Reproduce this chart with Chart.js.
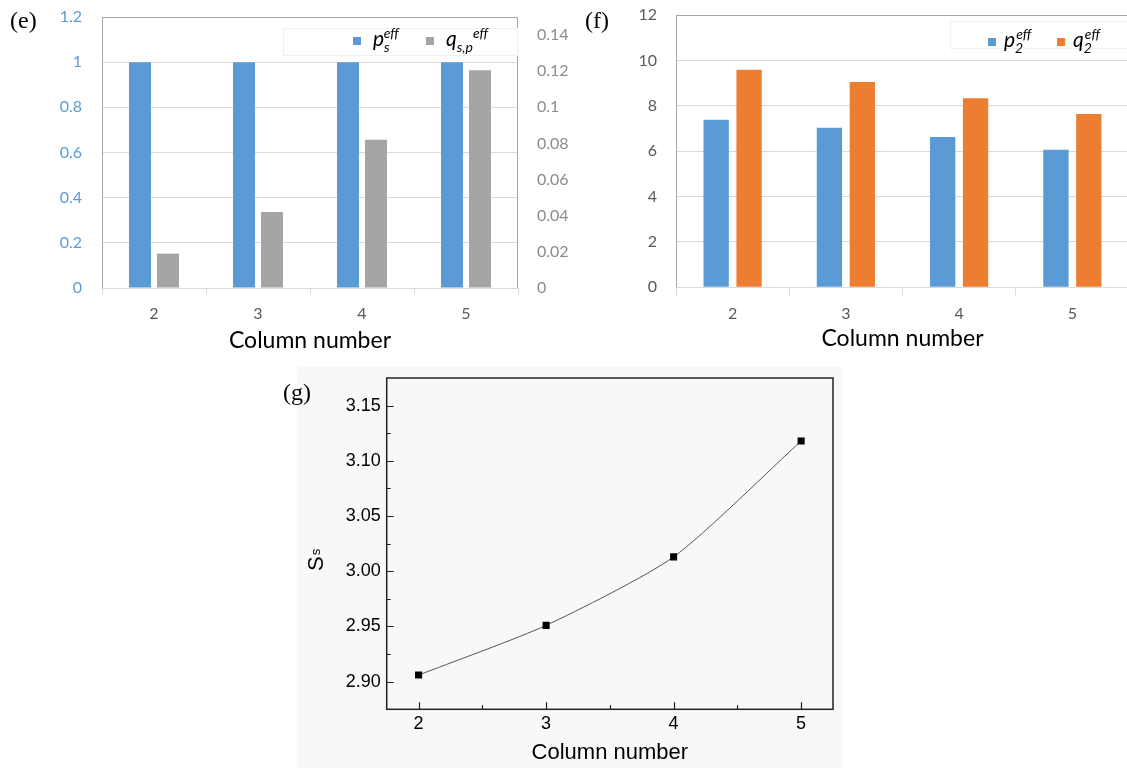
<!DOCTYPE html>
<html>
<head>
<meta charset="utf-8">
<script src="https://cdn.jsdelivr.net/npm/chart.js@4.4.0/dist/chart.umd.min.js"></script>
<style>
  html, body { margin: 0; padding: 0; background: #fff; overflow: hidden; width: 1127px; height: 768px; }
  .panel { position: absolute; }
  .tag { position: absolute; font-family: "Liberation Serif", serif; font-size: 24px; line-height: 1; color: #000; }
  #bgG { position: absolute; left: 297px; top: 367px; width: 545px; height: 401px; background: #f8f8f8; }
</style>
</head>
<body>
<div id="bgG"></div>
<div class="panel" style="left:0;top:0;width:600px;height:360px"><canvas id="chartE"></canvas></div>
<div class="panel" style="left:560px;top:0;width:580px;height:360px"><canvas id="chartF"></canvas></div>
<div class="panel" style="left:290px;top:365px;width:560px;height:403px"><canvas id="chartG"></canvas></div>
<div class="tag" style="left:10px;top:8px">(e)</div>
<div class="tag" style="left:585px;top:8px">(f)</div>
<div class="tag" style="left:283px;top:380px">(g)</div>

<script>
// Data
const columns = ['2', '3', '4', '5'];
const psEff = [1, 1, 1, 1];
const qspEff = [0.019, 0.042, 0.082, 0.1205];
const p2Eff = [7.38, 7.03, 6.62, 6.06];
const q2Eff = [9.59, 9.05, 8.33, 7.64];
const columnNumbers = [2, 3, 4, 5];
const ssValues = [2.906, 2.951, 3.013, 3.118];

// Tick labels
const ticksELeft = [0, 0.2, 0.4, 0.6, 0.8, 1, 1.2];
const ticksERight = [0, 0.02, 0.04, 0.06, 0.08, 0.1, 0.12, 0.14];
const ticksF = [0, 2, 4, 6, 8, 10, 12];
const ticksGX = [2, 3, 4, 5];
const minorGX = [2.5, 3.5, 4.5];
const ticksGY = [2.90, 2.95, 3.00, 3.05, 3.10, 3.15];
const minorGY = [2.925, 2.975, 3.025, 3.075, 3.125];

const BLUE = '#5b9bd5';
const GRAY = '#a5a5a5';
const ORANGE = '#ed7d31';
const GRID = '#d9d9d9';
const XLFONT = 'Lato, "Open Sans", sans-serif';
const ARIAL = '"Liberation Sans", Arial, sans-serif';

function setTicks(list) {
    return function(scale) {
        scale.ticks = list.map(v => ({ value: v }));
    };
}
function plainNum(v) {
    return String(+v.toFixed(4));
}
// fixed axis size, and no extra label padding pushed into the layout
function fixWidth(w) {
    return function(scale) {
        scale.width = w;
        scale.paddingTop = 0;
        scale.paddingBottom = 0;
    };
}
function fixHeight(h) {
    return function(scale) {
        scale.height = h;
        scale.paddingLeft = 0;
        scale.paddingRight = 0;
    };
}

// draw text made of pieces (main, subscript, superscript)
function drawRich(ctx, x, y, parts, color) {
    ctx.save();
    ctx.fillStyle = color;
    ctx.textBaseline = 'alphabetic';
    ctx.textAlign = 'left';
    parts.forEach(p => {
        ctx.font = (p.italic ? 'italic ' : '') + p.size + 'px ' + (p.family || XLFONT);
        ctx.fillText(p.text, x, y + (p.dy || 0));
        x += ctx.measureText(p.text).width + (p.gap || 0);
    });
    ctx.restore();
}

// Excel style frame + legend
function excelDecor(legendItems, boxRect) {
    return {
        id: 'excelDecor',
        afterDraw(chart) {
            const ctx = chart.ctx;
            const a = chart.chartArea;
            ctx.save();
            ctx.strokeStyle = '#a6a6a6';
            ctx.lineWidth = 1;
            ctx.beginPath();
            ctx.moveTo(a.left + 0.5, a.bottom);
            ctx.lineTo(a.left + 0.5, a.top + 0.5);
            ctx.lineTo(a.right - 0.5, a.top + 0.5);
            ctx.lineTo(a.right - 0.5, a.bottom);
            ctx.stroke();
            if (boxRect) {
                ctx.strokeStyle = '#f0f0f0';
                ctx.strokeRect(boxRect[0] + 0.5, boxRect[1] + 0.5, boxRect[2], boxRect[3]);
            }
            legendItems.forEach(item => {
                ctx.fillStyle = item.color;
                ctx.fillRect(item.x, item.y, 8, 8);
                drawRich(ctx, item.tx, item.y + 9, item.parts, '#000');
            });
            ctx.restore();
        }
    };
}

// ---------- (e) ----------
new Chart(document.getElementById('chartE'), {
    type: 'bar',
    data: {
        labels: columns,
        datasets: [
            { label: 'ps eff', data: psEff, backgroundColor: BLUE, yAxisID: 'y' },
            { label: 'qs,p eff', data: qspEff, backgroundColor: GRAY, yAxisID: 'y2' }
        ]
    },
    options: {
        responsive: true,
        maintainAspectRatio: false,
        animation: false,
        layout: { padding: { top: 17, left: 0, right: 0, bottom: 0 } },
        datasets: { bar: { categoryPercentage: 0.538, barPercentage: 0.786 } },
        plugins: { legend: { display: false }, tooltip: { enabled: false } },
        scales: {
            x: {
                grid: { drawOnChartArea: false, color: GRID, tickLength: 6 },
                border: { color: GRID },
                ticks: { color: '#595959', font: { family: XLFONT, size: 16 }, padding: 10 },
                title: { display: true, text: 'Column number', color: '#000', font: { family: XLFONT, size: 23 }, padding: { top: 0, bottom: 6 } },
                afterFit: fixHeight(72)
            },
            y: {
                min: 0, max: 1.2,
                grid: { color: GRID, drawTicks: false },
                border: { display: false },
                ticks: { color: BLUE, font: { family: XLFONT, size: 16 }, padding: 20, callback: plainNum },
                afterBuildTicks: setTicks(ticksELeft),
                afterFit: fixWidth(102)
            },
            y2: {
                position: 'right',
                min: 0, max: 0.15,
                grid: { drawOnChartArea: false, drawTicks: false },
                border: { display: false },
                ticks: { color: '#8c8c8c', font: { family: XLFONT, size: 16 }, padding: 19, callback: plainNum },
                afterBuildTicks: setTicks(ticksERight),
                afterFit: fixWidth(82)
            }
        }
    },
    plugins: [excelDecor([
        { color: BLUE, x: 353, y: 37, tx: 373, parts: [
            { text: 'p', size: 21, italic: true },
            { text: 's', size: 14, italic: true, dy: 6, gap: -6 },
            { text: 'eff', size: 14, italic: true, dy: -8 }
        ] },
        { color: GRAY, x: 426, y: 37, tx: 446, parts: [
            { text: 'q', size: 21, italic: true },
            { text: 's,p', size: 14, italic: true, dy: 6 },
            { text: 'eff', size: 14, italic: true, dy: -8 }
        ] }
    ], [283, 28, 234, 27])]
});

// ---------- (f) ----------
new Chart(document.getElementById('chartF'), {
    type: 'bar',
    data: {
        labels: columns,
        datasets: [
            { label: 'p2 eff', data: p2Eff, backgroundColor: BLUE },
            { label: 'q2 eff', data: q2Eff, backgroundColor: ORANGE }
        ]
    },
    options: {
        responsive: true,
        maintainAspectRatio: false,
        animation: false,
        layout: { padding: { top: 15, left: 0, right: 11, bottom: 0 } },
        datasets: { bar: { categoryPercentage: 0.581, barPercentage: 0.769 } },
        plugins: { legend: { display: false }, tooltip: { enabled: false } },
        scales: {
            x: {
                grid: { drawOnChartArea: false, color: GRID, tickLength: 8 },
                border: { color: GRID },
                ticks: { color: '#595959', font: { family: XLFONT, size: 16 }, padding: 9 },
                title: { display: true, text: 'Column number', color: '#000', font: { family: XLFONT, size: 23 }, padding: { top: 0, bottom: 8 } },
                afterFit: fixHeight(72.7)
            },
            y: {
                min: 0, max: 12,
                grid: { color: GRID, drawTicks: false },
                border: { display: false },
                ticks: { color: '#595959', font: { family: XLFONT, size: 16 }, padding: 19, callback: plainNum },
                afterBuildTicks: setTicks(ticksF),
                afterFit: fixWidth(116)
            }
        }
    },
    plugins: [excelDecor([
        { color: BLUE, x: 428, y: 38, tx: 444, parts: [
            { text: 'p', size: 21, italic: true },
            { text: '2', size: 14, italic: true, dy: 6, gap: -7 },
            { text: 'eff', size: 14, italic: true, dy: -8 }
        ] },
        { color: ORANGE, x: 497, y: 38, tx: 513, parts: [
            { text: 'q', size: 21, italic: true },
            { text: '2', size: 14, italic: true, dy: 6, gap: -7 },
            { text: 'eff', size: 14, italic: true, dy: -8 }
        ] }
    ], [390, 21, 200, 27])]
});

// ---------- (g) ----------
const originDecor = {
    id: 'originDecor',
    afterDraw(chart) {
        const ctx = chart.ctx;
        const a = chart.chartArea;
        const xs = chart.scales.x;
        const ys = chart.scales.y;
        ctx.save();
        ctx.strokeStyle = '#222';
        ctx.lineWidth = 1.5;
        ctx.strokeRect(a.left, a.top, a.right - a.left, a.bottom - a.top);
        ctx.lineWidth = 1.2;
        ctx.beginPath();
        xs.ticks.forEach(t => {
            const px = Math.round(xs.getPixelForValue(t.value)) + 0.5;
            const len = ticksGX.includes(t.value) ? 7 : 4;
            ctx.moveTo(px, a.bottom);
            ctx.lineTo(px, a.bottom - len);
        });
        ys.ticks.forEach(t => {
            const py = Math.round(ys.getPixelForValue(t.value)) + 0.5;
            const len = ticksGY.includes(t.value) ? 7 : 4;
            ctx.moveTo(a.left, py);
            ctx.lineTo(a.left + len, py);
        });
        ctx.stroke();
        // y title: S with small s
        ctx.translate(33, 206);
        ctx.rotate(-Math.PI / 2);
        ctx.fillStyle = '#000';
        ctx.textBaseline = 'alphabetic';
        ctx.font = '22px ' + ARIAL;
        ctx.fillText('S', 0, 0);
        const w = ctx.measureText('S').width;
        ctx.font = '13px ' + ARIAL;
        ctx.fillText('s', w + 1, -3);
        ctx.restore();
    }
};

new Chart(document.getElementById('chartG'), {
    type: 'line',
    data: {
        datasets: [{
            data: columnNumbers.map((c, i) => ({ x: c, y: ssValues[i] })),
            borderColor: '#555',
            borderWidth: 1,
            tension: 0.22,
            pointStyle: 'rect',
            pointRadius: 5,
            pointBackgroundColor: '#000',
            pointBorderWidth: 0
        }]
    },
    options: {
        responsive: true,
        maintainAspectRatio: false,
        animation: false,
        layout: { padding: { top: 13, left: 0, right: 17, bottom: 0 } },
        plugins: { legend: { display: false }, tooltip: { enabled: false } },
        scales: {
            x: {
                type: 'linear',
                min: 1.75, max: 5.25,
                grid: { display: false, drawTicks: false },
                border: { display: false },
                ticks: {
                    color: '#000', font: { family: ARIAL, size: 18 }, padding: 4,
                    callback: v => ticksGX.includes(v) ? String(v) : ''
                },
                afterBuildTicks: setTicks([...ticksGX, ...minorGX].sort()),
                title: { display: true, text: 'Column number', color: '#000', font: { family: ARIAL, size: 22 }, padding: { top: 0, bottom: 2 } },
                afterFit: fixHeight(58.7)
            },
            y: {
                min: 2.875, max: 3.175,
                grid: { display: false, drawTicks: false },
                border: { display: false },
                ticks: {
                    color: '#000', font: { family: ARIAL, size: 18 }, padding: 6,
                    callback: v => ticksGY.includes(v) ? v.toFixed(2) : ''
                },
                afterBuildTicks: setTicks([...ticksGY, ...minorGY].sort()),
                afterFit: fixWidth(96.7)
            }
        }
    },
    plugins: [originDecor]
});
</script>
</body>
</html>
